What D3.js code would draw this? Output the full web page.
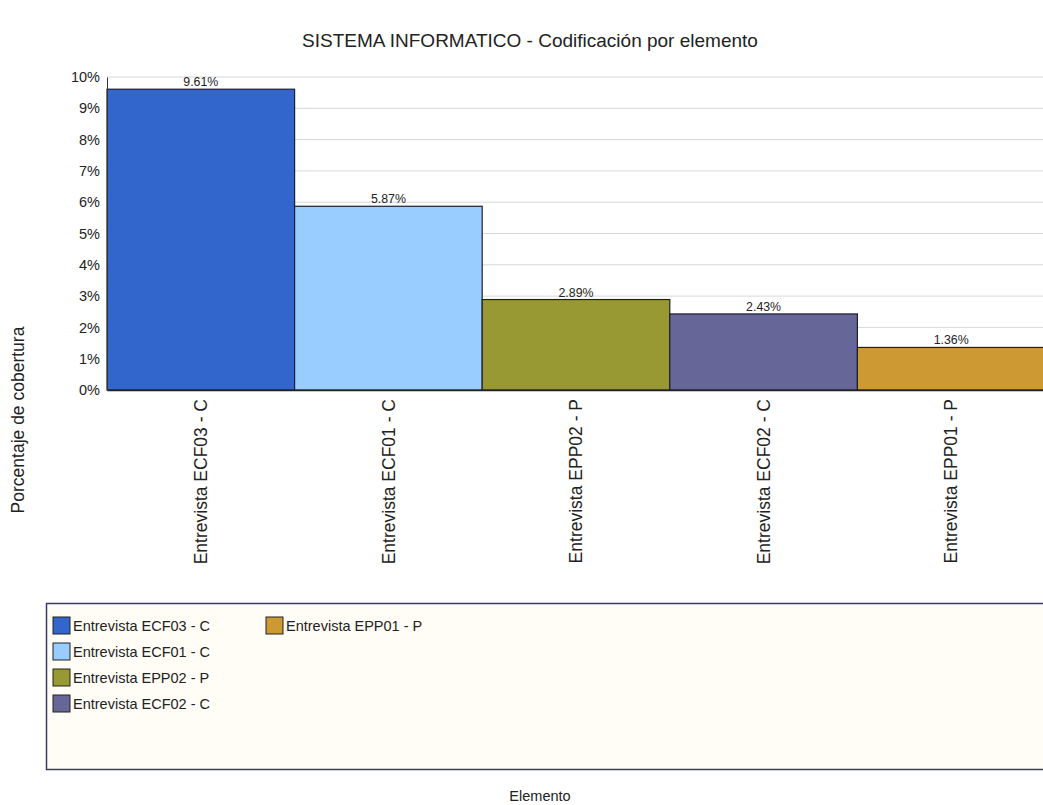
<!DOCTYPE html>
<html>
<head>
<meta charset="utf-8">
<script src="https://cdn.jsdelivr.net/npm/d3@7"></script>
<style>
  body { margin: 0; background: #fff; }
  text { font-family: "Liberation Sans", Arial, sans-serif; fill: #222; }
</style>
</head>
<body>
<div id="chart"></div>
<script>
var categories = ["Entrevista ECF03 - C", "Entrevista ECF01 - C", "Entrevista EPP02 - P", "Entrevista ECF02 - C", "Entrevista EPP01 - P"];
var values = [9.61, 5.87, 2.89, 2.43, 1.36];
var colors = ["#3366cc", "#99ccff", "#999933", "#666699", "#cc9933"];
var yTicks = [0, 1, 2, 3, 4, 5, 6, 7, 8, 9, 10];

var width = 1043, height = 805;
var margin = { top: 77, left: 107 };
var plotH = 390 - margin.top;

var svg = d3.select("#chart").append("svg")
  .attr("width", width).attr("height", height);

var g = svg.append("g").attr("transform", "translate(" + margin.left + "," + margin.top + ")");

var x = d3.scaleBand().domain(categories).range([0, 938]).padding(0);
var y = d3.scaleLinear().domain([0, 10]).range([plotH, 0]);

// gridlines
g.append("g").selectAll("line").data(yTicks.slice(1)).enter().append("line")
  .attr("x1", 0).attr("x2", 940)
  .attr("y1", function (d) { return y(d); })
  .attr("y2", function (d) { return y(d); })
  .attr("stroke", "#d8d8d8").attr("stroke-width", 1);

// bars
g.append("g").selectAll("rect").data(values).enter().append("rect")
  .attr("x", function (d, i) { return x(categories[i]); })
  .attr("y", function (d) { return y(d); })
  .attr("width", x.bandwidth())
  .attr("height", function (d) { return y(0) - y(d); })
  .attr("fill", function (d, i) { return colors[i]; })
  .attr("stroke", "#1e1e2e").attr("stroke-width", 1.2);

// value labels
g.append("g").selectAll("text").data(values).enter().append("text")
  .attr("x", function (d, i) { return x(categories[i]) + x.bandwidth() / 2; })
  .attr("y", function (d) { return y(d) - 3; })
  .attr("text-anchor", "middle")
  .attr("font-size", 12.5)
  .attr("textLength", 35).attr("lengthAdjust", "spacingAndGlyphs")
  .text(function (d) { return d.toFixed(2) + "%"; });

// y axis
var yAxis = g.append("g").call(d3.axisLeft(y).tickValues(yTicks).tickSize(0).tickPadding(7)
  .tickFormat(function (d) { return d + "%"; }));
yAxis.select(".domain").attr("stroke", "#333");
yAxis.selectAll("text").attr("font-size", 14.5).attr("fill", "#222")
  .attr("font-family", "Liberation Sans, Arial, sans-serif");

// x axis
var xAxis = g.append("g").attr("transform", "translate(0," + plotH + ")")
  .call(d3.axisBottom(x).tickSize(0).tickPadding(0));
xAxis.select(".domain").attr("stroke", "#222").attr("stroke-width", 1.5);
xAxis.selectAll("text")
  .attr("font-size", 17.5).attr("fill", "#222")
  .attr("font-family", "Liberation Sans, Arial, sans-serif")
  .attr("transform", "rotate(-90)")
  .attr("text-anchor", "end")
  .attr("x", -9).attr("y", 0).attr("dy", "0.35em");

// titles
svg.append("text").attr("x", 530).attr("y", 47).attr("text-anchor", "middle")
  .attr("font-size", 19).text("SISTEMA INFORMATICO - Codificación por elemento");
svg.append("text").attr("transform", "translate(24,420) rotate(-90)")
  .attr("text-anchor", "middle").attr("font-size", 17.5).text("Porcentaje de cobertura");
svg.append("text").attr("x", 540).attr("y", 801).attr("text-anchor", "middle")
  .attr("font-size", 14.5).text("Elemento");

// legend
svg.append("rect").attr("x", 46.5).attr("y", 603.5).attr("width", 1010).attr("height", 166)
  .attr("fill", "#fffdf6").attr("stroke", "#3a3a6a").attr("stroke-width", 1.5);

var legend = svg.append("g").selectAll("g").data(categories).enter().append("g")
  .attr("transform", function (d, i) {
    var col = i < 4 ? 0 : 1;
    var row = i < 4 ? i : i - 4;
    return "translate(" + (53 + col * 213) + "," + (617 + row * 26) + ")";
  });
legend.append("rect").attr("width", 17).attr("height", 17)
  .attr("fill", function (d, i) { return colors[i]; })
  .attr("stroke", "#222").attr("stroke-width", 1);
legend.append("text").attr("x", 20).attr("y", 14).attr("font-size", 14.5)
  .text(function (d) { return d; });
</script>
</body>
</html>
